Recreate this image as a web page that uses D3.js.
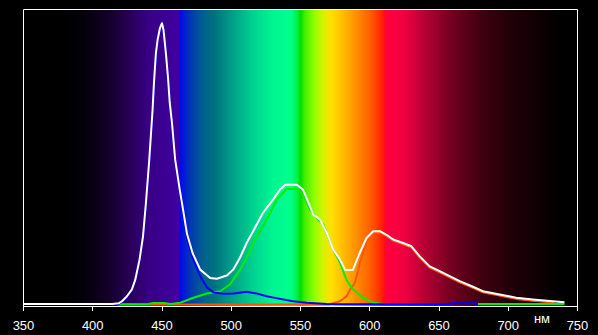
<!DOCTYPE html>
<html lang="ru">
<head>
  <meta charset="UTF-8">
  <title>Спектр</title>
  <script src="https://d3js.org/d3.v7.min.js"></script>
  <style>
    html, body { margin: 0; padding: 0; background: #000; }
    svg { display: block; }
  </style>
</head>
<body>
  <div id="chart"></div>
  <script>
    // wavelength ticks (nm)
    const xTicks = [350, 400, 450, 500, 550, 600, 650, 700, 750];
    const unitLabel = 'нм';

    // total (white) curve: [nm, relative intensity]
    const totalCurve = [
      [350, 0.002], [414, 0.002], [418.7, 0.004], [421.1, 0.011], [424.7, 0.028],
      [428.3, 0.051], [430.7, 0.084], [433.8, 0.152], [436.3, 0.231], [438.4, 0.344],
      [440.8, 0.49], [443.2, 0.659], [444.2, 0.75], [445.6, 0.851], [446.8, 0.895],
      [448.5, 0.935], [450.0, 0.952], [451.1, 0.929], [452.8, 0.851], [454.3, 0.77],
      [455.6, 0.682], [457.2, 0.615], [459.5, 0.49], [462.8, 0.389], [464.4, 0.344],
      [468.0, 0.24], [472.0, 0.175], [477.6, 0.118], [484.8, 0.09], [489.6, 0.087],
      [496.8, 0.098], [501.4, 0.118], [506.4, 0.159], [511.2, 0.209], [515.8, 0.248],
      [523.0, 0.311], [530.2, 0.355], [535.2, 0.389], [539.0, 0.405], [547.3, 0.405],
      [551.8, 0.389], [556.8, 0.332], [559.2, 0.304], [564.1, 0.287], [568.9, 0.243],
      [573.6, 0.186], [578.5, 0.152], [582.1, 0.118], [587.8, 0.117], [592.9, 0.176],
      [597.7, 0.225], [602.5, 0.248], [607.3, 0.248], [612.1, 0.236], [616.9, 0.22],
      [624.1, 0.208], [630.1, 0.197], [636.1, 0.163], [643.3, 0.129], [650.5, 0.113],
      [657.7, 0.096], [665.0, 0.079], [674.5, 0.06], [681.7, 0.045], [693.8, 0.034],
      [705.8, 0.023], [717.8, 0.017], [732.2, 0.011], [740.6, 0.008]
    ];

    // blue channel
    const blueCurve = [
      [415, 0], [418.7, 0.002], [421.1, 0.009], [424.7, 0.025], [428.3, 0.048],
      [430.7, 0.08], [433.8, 0.148], [436.3, 0.226], [438.4, 0.338], [440.8, 0.484],
      [443.2, 0.652], [444.2, 0.743], [445.6, 0.843], [446.8, 0.888], [448.5, 0.928],
      [450.0, 0.945], [451.1, 0.922], [452.8, 0.845], [454.3, 0.764], [455.6, 0.676],
      [457.2, 0.609], [459.5, 0.484], [462.8, 0.382], [464.4, 0.336], [468.0, 0.225],
      [472.7, 0.15], [477.6, 0.096], [482.4, 0.058], [487.2, 0.041], [494.4, 0.036],
      [501.6, 0.037], [511.2, 0.043], [518.4, 0.037], [525.6, 0.028], [535.2, 0.019],
      [544.8, 0.011], [554.5, 0.006], [568.9, 0.002], [580, 0.001], [657, 0.001],
      [659, 0.004], [676, 0.004], [678, 0.001]
    ];

    // green channel
    const greenCurve = [
      [418, 0.001], [440, 0.002], [444, 0.005], [452, 0.005], [456, 0.002],
      [463.2, 0.006], [472.7, 0.023], [482.4, 0.037], [492.0, 0.045], [499.2, 0.068],
      [506.4, 0.118], [511.2, 0.158], [518.4, 0.231], [525.6, 0.287], [532.8, 0.355],
      [540.1, 0.391], [547.3, 0.391], [552.1, 0.372], [556.8, 0.321], [561.6, 0.293],
      [566.4, 0.27], [573.6, 0.186], [578.5, 0.142], [583.3, 0.082], [588.0, 0.051],
      [595.2, 0.023], [602.5, 0.006], [609.7, 0.002], [612, 0.002],
      [613, null], [677, null],
      [678, 0.002], [740.6, 0.002]
    ];

    // red channel
    const redCurve = [
      [418, 0], [570, 0], [573.6, 0.004], [578.5, 0.011], [583.3, 0.028],
      [585.7, 0.049], [589.3, 0.073], [592.9, 0.141], [595.3, 0.176], [597.7, 0.212],
      [600.1, 0.228], [602.5, 0.243], [607.3, 0.244], [612.1, 0.232], [616.9, 0.216],
      [624.1, 0.204], [630.1, 0.193], [636.1, 0.159], [643.3, 0.125], [650.5, 0.109],
      [657.7, 0.092], [665.0, 0.075], [674.5, 0.056], [681.7, 0.041], [693.8, 0.03],
      [705.8, 0.019], [717.8, 0.013], [733, 0.007]
    ];

    const width = 598, height = 335;
    const plot = { left: 23.5, right: 577.5, top: 9.5, bottom: 306.5 };

    const x = d3.scaleLinear().domain([350, 750]).range([plot.left, plot.right]);
    const y = d3.scaleLinear().domain([0, 1]).range([304.5, 9]);

    const svg = d3.select('#chart').append('svg')
      .attr('width', width)
      .attr('height', height)
      .style('background', '#000');

    const defs = svg.append('defs');

    // spectrum colours behind the plot
    const spectrum = [
      [350, '#000000'], [380, '#000000'], [395, '#04000c'], [410, '#120026'],
      [425, '#250050'], [440, '#380084'], [455, '#3c0096'], [462.3, '#4000a4'],
      [463.2, '#0008ee'], [470, '#0036b4'], [480, '#00608f'], [488, '#00727f'],
      [500, '#009c88'], [515, '#00d090'], [530, '#00f590'], [543, '#00ff8c'],
      [548, '#00ee40'], [550, '#00de00'], [553, '#40ee00'], [560, '#90ff00'],
      [566, '#d0f400'], [572, '#ffe000'], [580, '#ffc000'], [590, '#ff9000'],
      [600, '#ff6000'], [607, '#ff3000'], [610.5, '#ff1010'], [612, '#ff0040'],
      [625, '#f00040'], [640, '#b40032'], [660, '#700020'], [680, '#400010'],
      [700, '#220008'], [720, '#100003'], [738, '#000000'], [750, '#000000']
    ];

    const grad = defs.append('linearGradient')
      .attr('id', 'spectrum')
      .attr('gradientUnits', 'userSpaceOnUse')
      .attr('x1', x(350)).attr('x2', x(750))
      .attr('y1', 0).attr('y2', 0);

    grad.selectAll('stop')
      .data(spectrum)
      .enter()
      .append('stop')
      .attr('offset', d => (d[0] - 350) / 400)
      .attr('stop-color', d => d[1]);

    defs.append('clipPath').attr('id', 'clip')
      .append('rect')
      .attr('x', plot.left).attr('y', plot.top)
      .attr('width', plot.right - plot.left)
      .attr('height', plot.bottom - plot.top);

    svg.append('rect')
      .attr('x', plot.left).attr('y', plot.top)
      .attr('width', plot.right - plot.left)
      .attr('height', plot.bottom - plot.top)
      .attr('fill', 'url(#spectrum)');

    const line = d3.line()
      .defined(d => d[1] !== null)
      .x(d => x(d[0]))
      .y(d => y(d[1]));

    const curves = svg.append('g').attr('clip-path', 'url(#clip)');

    const series = [
      { data: redCurve, color: '#ff5500' },
      { data: greenCurve, color: '#00ee00' },
      { data: blueCurve, color: '#0000ff' },
      { data: totalCurve, color: '#ffffff' }
    ];

    curves.selectAll('path')
      .data(series)
      .enter()
      .append('path')
      .attr('d', d => line(d.data))
      .attr('fill', 'none')
      .attr('stroke', d => d.color)
      .attr('stroke-width', 2)
      .attr('stroke-linejoin', 'round');

    // frame: top, sides and the axis line
    const frame = svg.append('g').attr('stroke', '#fff').attr('stroke-width', 1);
    frame.append('line').attr('x1', plot.left).attr('x2', plot.right)
      .attr('y1', plot.top).attr('y2', plot.top);
    frame.append('line').attr('x1', plot.left).attr('x2', plot.right)
      .attr('y1', plot.bottom).attr('y2', plot.bottom);

    // ticks hang below the axis line
    frame.selectAll('.tick')
      .data(xTicks)
      .enter()
      .append('line')
      .attr('x1', d => Math.round(x(d) - 0.5) + 0.5)
      .attr('x2', d => Math.round(x(d) - 0.5) + 0.5)
      .attr('y1', d => (d === 350 || d === 750) ? plot.top : plot.bottom)
      .attr('y2', plot.bottom + 4.5);

    svg.append('g')
      .selectAll('text')
      .data(xTicks)
      .enter()
      .append('text')
      .attr('x', d => x(d))
      .attr('y', 329.5)
      .attr('text-anchor', 'middle')
      .attr('fill', '#fff')
      .style('font-family', '"Liberation Sans", Arial, sans-serif')
      .style('font-size', '13px')
      .text(d => d);

    svg.append('text')
      .attr('x', 542)
      .attr('y', 322.5)
      .attr('text-anchor', 'middle')
      .attr('fill', '#fff')
      .style('font-family', '"Liberation Sans", Arial, sans-serif')
      .style('font-size', '13px')
      .text(unitLabel);
  </script>
</body>
</html>
